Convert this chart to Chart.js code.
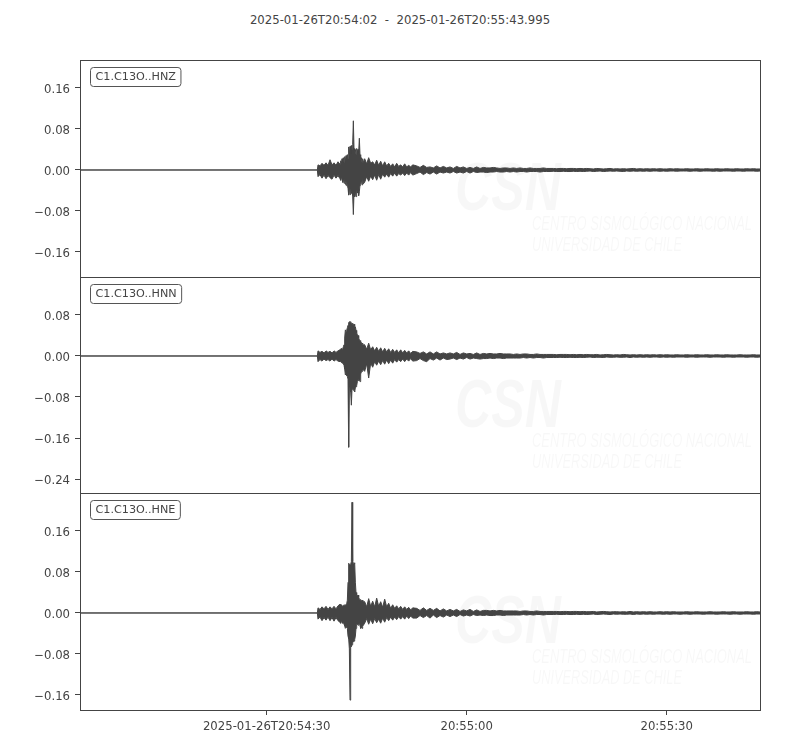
<!DOCTYPE html>
<html>
<head>
<meta charset="utf-8">
<script src="https://cdn.jsdelivr.net/npm/chart.js@4/dist/chart.umd.min.js"></script>
<style>
  body { margin: 0; background: #fff; }
  #wrap { position: relative; width: 800px; height: 750px; overflow: hidden; }
  #title { position: absolute; top: 13px; left: 0; width: 800px; text-align: center;
           font: 11.7px "DejaVu Sans"; color: #444; white-space: pre; }
  canvas { position: absolute; left: 0; }
</style>
</head>
<body>
<div id="wrap">
  <div id="title">2025-01-26T20:54:02  -  2025-01-26T20:55:43.995</div>
  <canvas id="hnz" width="800" height="227" style="top:55px"></canvas>
  <canvas id="hnn" width="800" height="226" style="top:272px"></canvas>
  <canvas id="hne" width="800" height="262" style="top:488px"></canvas>
</div>
<script>
// segundos después de 2025-01-26T20:54:02 (cada valor = inicio de una ventana min/max)
const times = [
  0, 35.6,
  35.7, 36.0, 36.3, 36.6, 36.9, 37.2, 37.5, 37.8, 38.1, 38.4, 38.7, 39.0,
  39.1, 39.2, 39.3, 39.4, 39.5, 39.6, 39.7, 39.8, 39.9, 40.0,
  40.1, 40.2, 40.3, 40.4, 40.5, 40.6, 40.7, 40.8, 40.9, 41.0,
  41.1, 41.2, 41.3, 41.4, 41.5, 41.6, 41.7, 41.8, 41.9, 42.0,
  42.1, 42.2, 42.3, 42.4, 42.5,
  42.7, 43.0, 43.3, 43.6, 43.9, 44.2, 44.5, 44.8, 45.1, 45.4,
  45.7, 46.0, 46.3, 46.6, 46.9, 47.2, 47.5, 47.8, 48.1, 48.4,
  48.7, 49.0, 49.3, 49.6, 49.9,
  50.5, 51, 51.5, 52, 52.5, 53, 53.5, 54, 54.5, 55,
  55.5, 56, 56.5, 57, 57.5, 58, 58.5, 59, 59.5, 60,
  60.5, 61, 61.5, 62, 62.5, 63, 63.5, 64, 64.5, 65,
  65.5, 66, 66.5, 67, 67.5, 68, 68.5, 69, 69.5, 70,
  70.5, 71, 71.5, 72, 72.5, 73, 73.5, 74, 74.5, 75,
  75.5, 76, 76.5, 77, 77.5, 78, 78.5, 79, 79.5, 80,
  80.5, 81, 81.5, 82, 82.5, 83, 83.5, 84, 84.5, 85,
  85.5, 86, 86.5, 87, 87.5, 88, 88.5, 89, 89.5, 90,
  90.5, 91, 91.5, 92, 92.5, 93, 93.5, 94, 94.5, 95,
  95.5, 96, 96.5, 97, 97.5, 98, 98.5, 99, 99.5, 100,
  100.5, 101, 101.5, 102
];

// HNZ: máximos y mínimos por ventana
const hnzMax = [
  0, 0,
  .010, .008, .013, .009, .014, .009, .020, .010, .014, .009, .016, .011,
  .018, .012, .022, .014, .024, .015, .026, .018, .028, .020,
  .030, .022, .045, .030, .046, .032, .048, .040, .050, .096,
  .042, .036, .040, .030, .042, .038, .040, .035, .062, .030,
  .020, .024, .015, .022, .014,
  .022, .012, .024, .013, .016, .010, .019, .009, .017, .008,
  .016, .008, .013, .007, .012, .006, .013, .007, .010, .006,
  .012, .006, .009, .006, .010,
  .008, .005, .009, .005, .006, .004, .008, .004, .007, .004,
  .006, .003, .007, .004, .006, .003, .005, .003, .006, .003,
  .005, .004, .004, .005, .004, .003, .004, .004, .003, .004,
  .003, .004, .003, .003, .004, .003, .003, .003, .004, .003,
  .003, .003, .0025, .003, .003, .0025, .003, .003, .0025, .003,
  .0025, .003, .0025, .002, .003, .0025, .002, .0025, .003, .002,
  .0025, .002, .0025, .002, .0025, .003, .002, .0025, .002, .0025,
  .002, .0025, .002, .0025, .002, .002, .0025, .002, .0025, .002,
  .002, .0025, .002, .002, .0025, .002, .002, .0025, .002, .002,
  .0025, .002, .002, .0025, .002, .002, .0025, .002, .002, .0025,
  .002, .0025, .002, .002
];
const hnzMin = [
  0, 0,
  -.013, -.009, -.016, -.010, -.017, -.011, -.015, -.018, -.010, -.016, -.011, -.017,
  -.020, -.014, -.018, -.024, -.015, -.026, -.018, -.025, -.030, -.020,
  -.032, -.035, -.049, -.030, -.048, -.035, -.046, -.040, -.050, -.087,
  -.045, -.052, -.040, -.052, -.038, -.045, -.040, -.050, -.042, -.030,
  -.028, -.018, -.029, -.016, -.027,
  -.024, -.013, -.022, -.012, -.019, -.010, -.020, -.009, -.018, -.008,
  -.014, -.008, -.014, -.007, -.012, -.006, -.012, -.007, -.010, -.006,
  -.011, -.006, -.010, -.005, -.010,
  -.007, -.004, -.009, -.005, -.008, -.004, -.008, -.004, -.006, -.004,
  -.006, -.003, -.006, -.004, -.006, -.003, -.006, -.003, -.005, -.004,
  -.004, -.005, -.004, -.004, -.003, -.004, -.004, -.003, -.004, -.003,
  -.004, -.003, -.003, -.004, -.003, -.003, -.003, -.004, -.003, -.003,
  -.003, -.0025, -.003, -.003, -.0025, -.003, -.003, -.0025, -.003, -.0025,
  -.003, -.0025, -.002, -.003, -.0025, -.002, -.003, -.0025, -.002, -.0025,
  -.002, -.0025, -.003, -.002, -.0025, -.002, -.0025, -.002, -.0025, -.002,
  -.0025, -.002, -.002, -.0025, -.002, -.0025, -.002, -.002, -.0025, -.002,
  -.002, -.002, -.0025, -.002, -.002, -.0025, -.002, -.002, -.002, -.0025,
  -.002, -.0025, -.002, -.002, -.002, -.0025, -.002, -.002, -.0025, -.002,
  -.002, -.002, -.0025, -.002
];

// HNN
const hnnMax = [
  0, 0,
  .010, .007, .009, .006, .010, .007, .009, .006, .010, .007, .010, .012,
  .012, .015, .013, .014, .018, .022, .035, .051, .048, .050,
  .055, .060, .065, .067, .066, .067, .064, .062, .064, .060,
  .062, .058, .057, .050, .045, .042, .040, .035, .032, .030,
  .028, .026, .025, .023, .022,
  .022, .013, .025, .012, .018, .010, .017, .009, .016, .008,
  .015, .008, .014, .007, .013, .007, .012, .006, .012, .006,
  .011, .006, .010, .005, .009,
  .008, .005, .008, .004, .008, .004, .008, .004, .006, .004,
  .006, .004, .007, .003, .006, .004, .005, .003, .006, .003,
  .005, .004, .005, .004, .004, .005, .004, .004, .004, .003,
  .004, .003, .004, .004, .003, .003, .004, .003, .003, .003,
  .003, .003, .0025, .003, .003, .003, .0025, .003, .0025, .003,
  .0025, .003, .0025, .0025, .003, .002, .0025, .003, .0025, .002,
  .0025, .002, .003, .0025, .002, .0025, .002, .0025, .002, .0025,
  .002, .0025, .002, .0025, .002, .0025, .002, .002, .0025, .002,
  .002, .0025, .002, .002, .0025, .002, .002, .0025, .002, .002,
  .0025, .002, .002, .0025, .002, .002, .002, .0025, .002, .002,
  .002, .0025, .002, .002
];
const hnnMin = [
  0, 0,
  -.011, -.007, -.010, -.006, -.009, -.007, -.010, -.006, -.010, -.007, -.010, -.011,
  -.010, -.012, -.014, -.012, -.016, -.018, -.025, -.037, -.035, -.038,
  -.040, -.045, -.178, -.060, -.062, -.070, -.096, -.065, -.064, -.066,
  -.068, -.070, -.062, -.060, -.058, -.050, -.048, -.045, -.048, -.050,
  -.035, -.032, -.030, -.028, -.027,
  -.030, -.015, -.043, -.014, -.022, -.011, -.018, -.010, -.017, -.009,
  -.016, -.008, -.015, -.008, -.014, -.007, -.012, -.007, -.011, -.006,
  -.011, -.006, -.010, -.005, -.010,
  -.009, -.005, -.009, -.011, -.005, -.008, -.004, -.008, -.004, -.007,
  -.006, -.004, -.007, -.004, -.006, -.003, -.006, -.004, -.005, -.006,
  -.005, -.005, -.004, -.005, -.004, -.004, -.005, -.004, -.004, -.004,
  -.004, -.004, -.003, -.004, -.003, -.004, -.003, -.003, -.004, -.003,
  -.003, -.003, -.003, -.0025, -.003, -.003, -.0025, -.003, -.003, -.0025,
  -.003, -.0025, -.002, -.003, -.0025, -.0025, -.003, -.002, -.0025, -.0025,
  -.002, -.0025, -.0025, -.002, -.003, -.002, -.0025, -.002, -.0025, -.002,
  -.0025, -.002, -.002, -.0025, -.002, -.0025, -.002, -.0025, -.002, -.002,
  -.002, -.0025, -.002, -.002, -.0025, -.002, -.002, -.002, -.0025, -.002,
  -.002, -.002, -.0025, -.002, -.002, -.0025, -.002, -.002, -.002, -.0025,
  -.002, -.002, -.0025, -.002
];

// HNE
const hneMax = [
  0, 0,
  .010, .007, .012, .008, .013, .007, .012, .008, .013, .008, .014, .017,
  .014, .016, .013, .014, .015, .014, .016, .015, .017, .018,
  .025, .060, .097, .095, .094, .095, .100, .216, .100, .098,
  .096, .098, .060, .040, .035, .033, .035, .030, .028, .026,
  .025, .024, .025, .022, .023,
  .022, .012, .028, .013, .023, .012, .029, .013, .022, .011,
  .027, .012, .019, .009, .016, .009, .014, .008, .013, .007,
  .012, .007, .011, .006, .010,
  .009, .005, .010, .005, .009, .005, .009, .004, .008, .004,
  .007, .004, .007, .003, .006, .004, .007, .003, .006, .003,
  .005, .005, .004, .005, .004, .005, .004, .004, .004, .004,
  .004, .003, .004, .004, .003, .003, .004, .003, .003, .003,
  .003, .003, .003, .0025, .003, .003, .0025, .003, .003, .0025,
  .003, .0025, .0025, .003, .002, .0025, .003, .0025, .002, .0025,
  .0025, .002, .0025, .002, .003, .002, .0025, .002, .0025, .002,
  .0025, .002, .002, .0025, .002, .0025, .002, .0025, .002, .002,
  .002, .0025, .002, .002, .0025, .002, .002, .002, .0025, .002,
  .002, .002, .0025, .002, .002, .0025, .002, .002, .002, .0025,
  .002, .002, .0025, .002
];
const hneMin = [
  0, 0,
  -.012, -.008, -.015, -.009, -.014, -.008, -.015, -.009, -.016, -.009, -.015, -.018,
  -.020, -.017, -.016, -.020, -.018, -.022, -.025, -.030, -.028, -.027,
  -.030, -.045, -.050, -.070, -.170, -.060, -.066, -.062, -.058, -.056,
  -.055, -.052, -.045, -.030, -.023, -.022, -.024, -.022, -.020, -.025,
  -.030, -.028, -.030, -.026, -.024,
  -.020, -.011, -.022, -.012, -.021, -.011, -.019, -.012, -.020, -.010,
  -.018, -.009, -.015, -.008, -.014, -.008, -.013, -.007, -.012, -.007,
  -.012, -.006, -.011, -.006, -.010,
  -.010, -.005, -.009, -.005, -.010, -.004, -.009, -.005, -.008, -.004,
  -.007, -.004, -.007, -.003, -.006, -.004, -.006, -.003, -.005, -.004,
  -.005, -.004, -.005, -.005, -.004, -.004, -.005, -.004, -.004, -.004,
  -.004, -.004, -.003, -.004, -.003, -.004, -.003, -.003, -.004, -.003,
  -.003, -.003, -.0025, -.003, -.003, -.0025, -.003, -.003, -.0025, -.003,
  -.0025, -.003, -.0025, -.002, -.003, -.0025, -.002, -.0025, -.003, -.002,
  -.0025, -.002, -.0025, -.0025, -.002, -.003, -.002, -.0025, -.002, -.0025,
  -.002, -.0025, -.002, -.002, -.0025, -.002, -.0025, -.002, -.002, -.0025,
  -.002, -.002, -.0025, -.002, -.002, -.002, -.0025, -.002, -.002, -.002,
  -.0025, -.002, -.002, -.002, -.0025, -.002, -.002, -.0025, -.002, -.002,
  -.002, -.0025, -.002, -.002
];

const channelLabels = ['C1.C13O..HNZ', 'C1.C13O..HNN', 'C1.C13O..HNE'];
const hnzTicks = [-0.16, -0.08, 0, 0.08, 0.16];
const hnnTicks = [-0.24, -0.16, -0.08, 0, 0.08];
const hneTicks = [-0.16, -0.08, 0, 0.08, 0.16];
const timeTicks = [28, 58, 88];
const timeTickLabels = ['2025-01-26T20:54:30', '20:55:00', '20:55:30'];

const INK = '#444';
const FONT = '"DejaVu Sans", sans-serif';
const FONT_SIZE = 11.7;

// marco, etiqueta de la estación y marca de agua
const panelPlugin = {
  id: 'panel',
  beforeDatasetsDraw(chart) {
    const { ctx, chartArea: a } = chart;
    ctx.save();
    ctx.beginPath();
    ctx.rect(a.left, a.top, a.right - a.left, a.bottom - a.top);
    ctx.clip();
    ctx.fillStyle = 'rgba(0,0,0,0.03)';
    ctx.font = 'italic bold 68px "Liberation Sans", sans-serif';
    ctx.fillText('CSN', a.left + 375, a.top + 150, 106);
    ctx.font = 'italic 21px "Liberation Sans", sans-serif';
    ctx.fillText('CENTRO SISMOLÓGICO NACIONAL', a.left + 452, a.top + 170, 220);
    ctx.fillText('UNIVERSIDAD DE CHILE', a.left + 452, a.top + 191, 150);
    ctx.restore();
  },
  afterDraw(chart, args, opts) {
    const { ctx, chartArea: a } = chart;
    ctx.save();
    ctx.strokeStyle = INK;
    ctx.lineWidth = 1;
    const l = Math.round(a.left) + 0.5, t = Math.round(a.top) + 0.5;
    ctx.strokeRect(l, t, Math.round(a.right - a.left), Math.round(a.bottom - a.top));
    // recuadro con el nombre del canal
    ctx.font = '11.2px ' + FONT;
    const w = ctx.measureText(opts.label).width + 10;
    const bx = l + 10, by = t + 7;
    ctx.beginPath();
    ctx.roundRect(bx, by, w, 19, 3);
    ctx.fillStyle = '#fff';
    ctx.fill();
    ctx.strokeStyle = '#555';
    ctx.stroke();
    ctx.fillStyle = INK;
    ctx.textBaseline = 'middle';
    ctx.fillText(opts.label, bx + 5, by + 10);
    ctx.restore();
  }
};

function fmtTick(v) {
  return v.toFixed(2).replace('-', '\u2212');
}

function noEdgePadding(s) {
  s.paddingTop = 0;
  s.paddingBottom = 0;
  s.paddingLeft = 0;
  s.paddingRight = 0;
}

function makeChart(id, maxVals, minVals, yMin, yMax, yTicks, label, showX) {
  if (maxVals.length !== times.length || minVals.length !== times.length) {
    console.warn(id, maxVals.length, minVals.length, times.length);
  }
  return new Chart(document.getElementById(id), {
    type: 'line',
    data: {
      datasets: [{
        data: times.map((t, i) => ({ x: t, y: maxVals[i] })),
        borderColor: INK,
        backgroundColor: INK,
        borderWidth: 1,
        pointRadius: 0,
        tension: 0,
        fill: '+1'
      }, {
        data: times.map((t, i) => ({ x: t, y: minVals[i] })),
        borderColor: INK,
        borderWidth: 1,
        pointRadius: 0,
        tension: 0,
        fill: false
      }]
    },
    plugins: [panelPlugin],
    options: {
      responsive: false,
      animation: false,
      events: [],
      layout: { padding: { top: 5, bottom: showX ? 0 : 5, left: 0, right: 40 } },
      plugins: {
        legend: { display: false },
        tooltip: { enabled: false },
        panel: { label: label }
      },
      scales: {
        x: {
          type: 'linear',
          min: 0,
          max: 101.995,
          display: showX,
          afterBuildTicks: s => { s.ticks = timeTicks.map(v => ({ value: v })); },
          afterFit: s => {
            noEdgePadding(s);
            s.height = showX ? 40 : 0;
          },
          grid: { drawOnChartArea: false, tickLength: 5, color: INK },
          border: { display: false },
          ticks: {
            color: INK, font: { family: FONT, size: FONT_SIZE }, padding: 5,
            maxRotation: 0, autoSkip: false,
            callback: (v, i) => timeTickLabels[i]
          }
        },
        y: {
          min: yMin,
          max: yMax,
          afterBuildTicks: s => { s.ticks = yTicks.map(v => ({ value: v })); },
          afterFit: s => {
            noEdgePadding(s);
            s.width = 80;
          },
          grid: { drawOnChartArea: false, tickLength: 5, color: INK },
          border: { display: false },
          ticks: {
            color: INK, font: { family: FONT, size: FONT_SIZE }, padding: 5,
            labelOffset: 2,
            callback: v => fmtTick(v)
          }
        }
      }
    }
  });
}

makeChart('hnz', hnzMax, hnzMin, -0.2088, 0.2146, hnzTicks, channelLabels[0], false);
makeChart('hnn', hnnMax, hnnMin, -0.2673, 0.1541, hnnTicks, channelLabels[1], false);
makeChart('hne', hneMax, hneMin, -0.1893, 0.2341, hneTicks, channelLabels[2], true);
</script>
</body>
</html>
